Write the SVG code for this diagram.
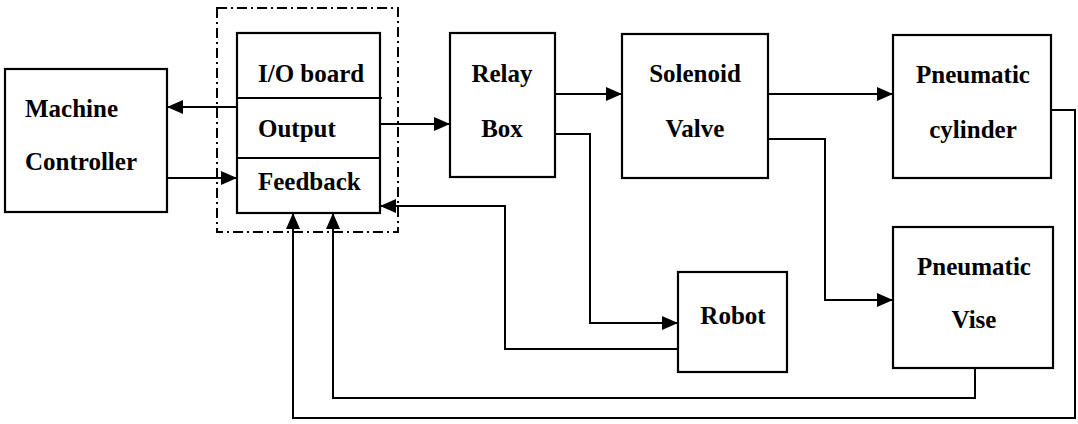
<svg xmlns="http://www.w3.org/2000/svg" width="1078" height="424" viewBox="0 0 1078 424">
<defs>
<marker id="a" viewBox="0 0 16 14" refX="16" refY="7" markerWidth="16" markerHeight="14" markerUnits="userSpaceOnUse" orient="auto"><path d="M0,0L16,7L0,14z" fill="#000"/></marker>
</defs>
<g id="io-group">
<rect x="217" y="8" width="181" height="224" fill="none" stroke="#000" stroke-width="2" stroke-dasharray="10 4 2 4"/>
</g>
<g fill="#fff" stroke="#000" stroke-width="2.2">
<g id="machine-controller"><rect x="5" y="69" width="162" height="143"/></g>
<g id="io-board"><rect x="237" y="33" width="143" height="180"/>
<line x1="237" y1="98" x2="382" y2="98"/>
<line x1="237" y1="158" x2="380" y2="158"/></g>
<g id="relay-box"><rect x="450" y="33" width="105" height="144"/></g>
<g id="solenoid-valve"><rect x="622" y="34" width="146" height="144"/></g>
<g id="pneumatic-cylinder"><rect x="893" y="35" width="158" height="143"/></g>
<g id="pneumatic-vise"><rect x="893" y="227" width="160" height="141"/></g>
<g id="robot"><rect x="678" y="272" width="109" height="100"/></g>
</g>
<g id="labels" font-family="Liberation Serif" font-size="25" font-weight="bold" fill="#000">
<text x="25" y="117">Machine</text>
<text x="25" y="170">Controller</text>
<text x="258" y="82">I/O board</text>
<text x="258" y="137">Output</text>
<text x="258" y="190">Feedback</text>
<text x="502" y="82" text-anchor="middle">Relay</text>
<text x="502" y="137" text-anchor="middle">Box</text>
<text x="695" y="82" text-anchor="middle">Solenoid</text>
<text x="695" y="137" text-anchor="middle">Valve</text>
<text x="973" y="83" text-anchor="middle">Pneumatic</text>
<text x="973" y="138" text-anchor="middle">cylinder</text>
<text x="974" y="275" text-anchor="middle">Pneumatic</text>
<text x="974" y="328" text-anchor="middle">Vise</text>
<text x="733" y="324" text-anchor="middle">Robot</text>
</g>
<g id="connectors" fill="none" stroke="#000" stroke-width="2">
<path d="M237,107H167" marker-end="url(#a)"/>
<path d="M167,178H237" marker-end="url(#a)"/>
<path d="M380,124H450" marker-end="url(#a)"/>
<path d="M555,94H622" marker-end="url(#a)"/>
<path d="M555,134H590V323H678" marker-end="url(#a)"/>
<path d="M768,94H893" marker-end="url(#a)"/>
<path d="M768,139H825V300H893" marker-end="url(#a)"/>
<path d="M678,349H505V206H380" marker-end="url(#a)"/>
<path d="M975,368V398H333V213" marker-end="url(#a)"/>
<path d="M1051,110H1075V418H293V213" marker-end="url(#a)"/>
</g>
</svg>
